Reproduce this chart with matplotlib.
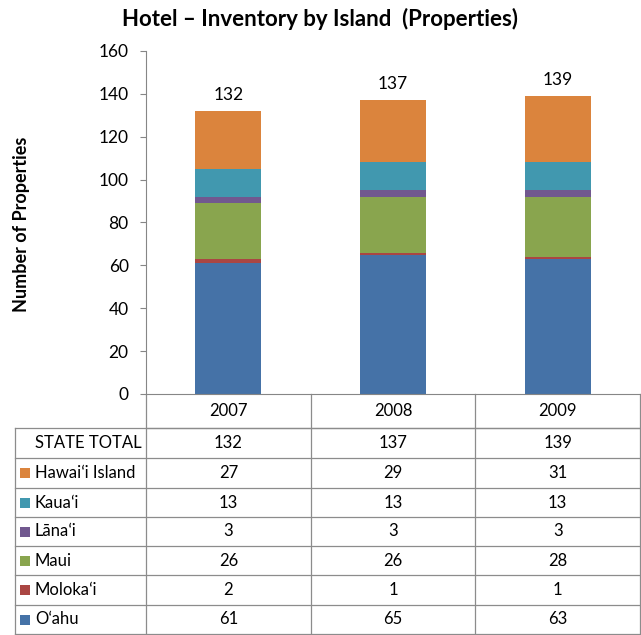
import matplotlib
matplotlib.use("Agg")
import matplotlib.pyplot as plt
from matplotlib.patches import Rectangle

plt.rcParams['font.family'] = ['Lato', 'DejaVu Sans']

years = ["2007", "2008", "2009"]
islands = ["Oʻahu", "Molokaʻi", "Maui", "Lānaʻi", "Kauaʻi", "Hawaiʻi Island"]
oahu = [61, 65, 63]
molokai = [2, 1, 1]
maui = [26, 26, 28]
lanai = [3, 3, 3]
kauai = [13, 13, 13]
hawaii = [27, 29, 31]
totals = [132, 137, 139]
series = [oahu, molokai, maui, lanai, kauai, hawaii]
colors = ["#4572A7", "#AA4643", "#89A54E", "#71588F", "#4198AF", "#DB843D"]
yticks = [0, 20, 40, 60, 80, 100, 120, 140, 160]

W, H = 641, 635
fig = plt.figure(figsize=(W / 100, H / 100), dpi=100)
ax_l, ax_r, ax_t, ax_b = 146, 640, 51, 394
ax = fig.add_axes([ax_l / W, 1 - ax_b / H, (ax_r - ax_l) / W, (ax_b - ax_t) / H])

x = list(range(len(years)))
bottom = [0] * len(years)
for vals, c in zip(series, colors):
    ax.bar(x, vals, width=0.4, bottom=bottom, color=c, zorder=2)
    bottom = [b + v for b, v in zip(bottom, vals)]

for xi, t in zip(x, totals):
    ax.annotate(str(t), (xi, t), xytext=(0, 6), textcoords="offset points",
                ha="center", va="bottom", fontsize=12.5)

ax.set_xlim(-0.5, len(years) - 0.5)
ax.set_ylim(0, 160)
ax.set_yticks(yticks)
ax.set_xticks([])
ax.tick_params(axis='y', direction='out', length=4.5, color='#868686', labelsize=12.5, pad=8)
for s in ['top', 'right']:
    ax.spines[s].set_visible(False)
ax.spines['left'].set_color('#868686')
ax.spines['bottom'].set_color('#868686')
ax.spines['bottom'].set_bounds(-0.5, 2.5)

fig.text(0.5, 1 - 19 / H, "Hotel – Inventory by Island  (Properties)",
         ha="center", va="center", fontsize=16, fontweight="bold")
fig.text(22 / W, 1 - 224 / H, "Number of Properties", rotation=90,
         ha="center", va="center", fontsize=13, fontweight="bold")

# ---- data table below axes ----
axh = ax_b - ax_t
def yf(py):
    return (ax_b - py) / axh

line_kw = dict(color="#8c8c8c", lw=0.9, clip_on=False)
xt = ax.get_xaxis_transform()
tA = ax.transAxes
label_left = (15 - ax_l) / (ax_r - ax_l)

header_bot = 428
row_edges = [428, 458, 488, 517, 546, 575, 605, 634]

# header row
ax.plot([-0.5, 2.5], [yf(header_bot)] * 2, transform=xt, **line_kw)
for b in [-0.5, 0.5, 1.5, 2.5]:
    ax.plot([b, b], [yf(ax_b), yf(row_edges[-1])], transform=xt, **line_kw)
for xi, yr in zip(x, years):
    ax.text(xi, yf((ax_b + header_bot) / 2), yr, transform=xt, ha="center",
            va="center", fontsize=12, clip_on=False)

# body rows
for e in row_edges:
    ax.plot([label_left, 1], [yf(e)] * 2, transform=tA, **line_kw)
ax.plot([label_left, label_left], [yf(row_edges[0]), yf(row_edges[-1])], transform=tA, **line_kw)

rows = [("STATE TOTAL", totals, None)]
for name, vals, c in reversed(list(zip(islands, series, colors))):
    rows.append((name, vals, c))

text_x = (35 - ax_l) / (ax_r - ax_l)
sq_x = (20 - ax_l) / (ax_r - ax_l)
sq_w = 10 / (ax_r - ax_l)
sq_h = 10 / axh
for i, (name, vals, c) in enumerate(rows):
    yc = yf((row_edges[i] + row_edges[i + 1]) / 2)
    ax.text(text_x, yc, name, transform=tA, ha="left", va="center",
            fontsize=12, clip_on=False)
    if c is not None:
        ax.add_patch(Rectangle((sq_x, yc - sq_h / 2), sq_w, sq_h, transform=tA,
                               facecolor=c, edgecolor="none", clip_on=False))
    for xi, v in zip(x, vals):
        ax.text(xi, yc, str(v), transform=xt, ha="center", va="center",
                fontsize=12, clip_on=False)

fig.savefig("out.png", dpi=100)
